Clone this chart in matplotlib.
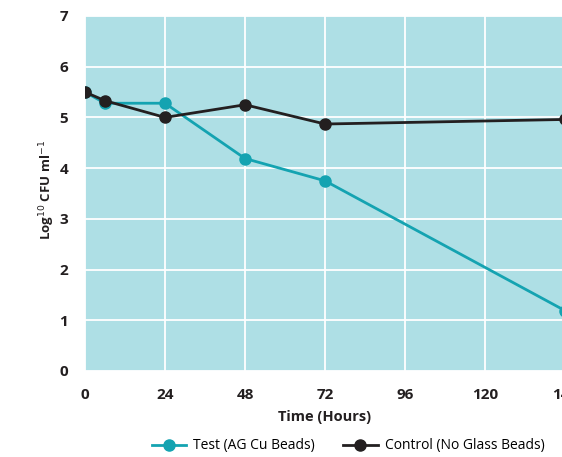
import matplotlib.pyplot as plt

# data
hours = [0, 6, 24, 48, 72, 144]
test_cfu = [5.5, 5.28, 5.28, 4.19, 3.75, 1.19]
control_cfu = [5.5, 5.33, 5.0, 5.25, 4.87, 4.96]
xticks = [0, 24, 48, 72, 96, 120, 144]
yticks = [0, 1, 2, 3, 4, 5, 6, 7]

plt.rcParams['font.family'] = ['Open Sans', 'DejaVu Sans']

fig = plt.figure(figsize=(5.62, 4.57), dpi=100)
ax = fig.add_axes([85/562, 86/457, 480/562, 355/457])
ax.set_facecolor('#aedfe5')

ax.plot(hours, test_cfu, color='#14a3b1', lw=2, marker='o', ms=8,
        label='Test (AG Cu Beads)', zorder=3)
ax.plot(hours, control_cfu, color='#231f20', lw=2, marker='o', ms=8,
        label='Control (No Glass Beads)', zorder=4)

ax.set_xlim(0, 144)
ax.set_ylim(0, 7)
ax.set_xticks(xticks)
ax.set_yticks(yticks)
ax.grid(color='white', lw=1.3)
ax.set_axisbelow(True)
for s in ax.spines.values():
    s.set_visible(False)
ax.tick_params(length=0, labelsize=11, pad=12)
for lab in ax.get_xticklabels() + ax.get_yticklabels():
    lab.set_fontweight('bold')
    lab.set_color('#231f20')

ax.set_xlabel('Time (Hours)', fontsize=10.5, fontweight='bold', color='#231f20', labelpad=6)
ax.set_ylabel(r'Log$^{10}$ CFU ml$^{-1}$', fontsize=9.5, fontweight='bold', color='#231f20',
              va='center')
ax.yaxis.set_label_coords((47 - 85) / 480, (371 - 190) / 355)

fig.legend(loc='center', bbox_to_anchor=(348/562, 1 - 446/457), ncol=2, frameon=False,
           fontsize=10, handlelength=2.5, handletextpad=0.5, columnspacing=2,
           borderaxespad=0)

fig.savefig('out.png', dpi=100)
